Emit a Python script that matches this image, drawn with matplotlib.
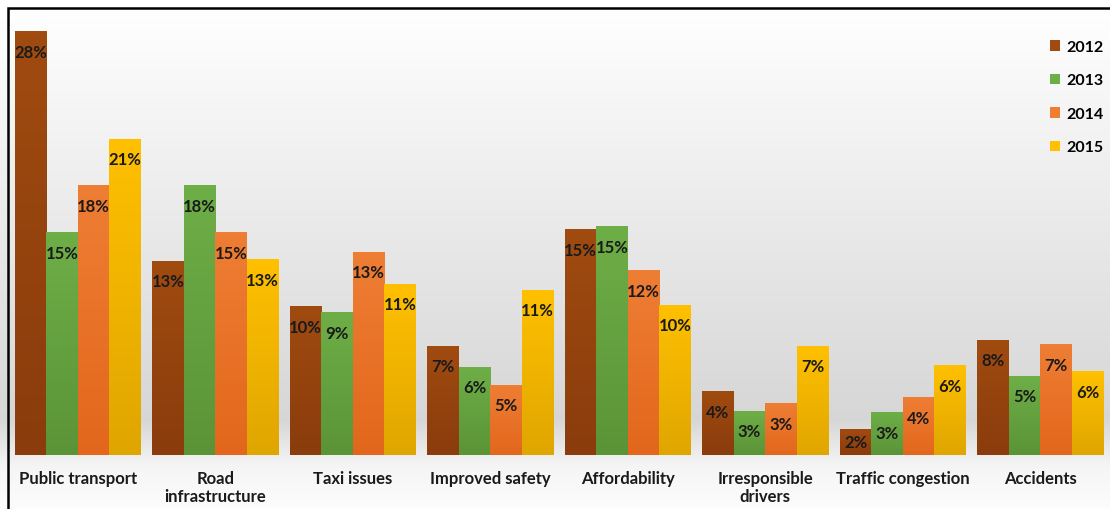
import numpy as np
import matplotlib
matplotlib.use('Agg')
import matplotlib.pyplot as plt
from matplotlib.patches import Patch, Rectangle
from matplotlib.colors import to_rgb

plt.rcParams['font.family'] = ['Lato', 'DejaVu Sans']
plt.rcParams['font.weight'] = 'bold'

categories = ['Public transport', 'Road\ninfrastructure', 'Taxi issues', 'Improved safety',
              'Affordability', 'Irresponsible\ndrivers', 'Traffic congestion', 'Accidents']
years = ['2012', '2013', '2014', '2015']
v2012 = [28.0, 12.8, 9.8, 7.2, 14.9, 4.2, 1.7, 7.6]
v2013 = [14.7, 17.8, 9.4, 5.8, 15.1, 2.9, 2.8, 5.2]
v2014 = [17.8, 14.7, 13.4, 4.6, 12.2, 3.4, 3.8, 7.3]
v2015 = [20.9, 12.9, 11.3, 10.9, 9.9, 7.2, 5.9, 5.5]
series = [v2012, v2013, v2014, v2015]

top_colors = ['#A04B10', '#6EAE47', '#EE7E34', '#FFC000']
bottom_colors = ['#8A3C0C', '#5B9437', '#E2671C', '#E0A600']

W, H = 1110, 510
fig = plt.figure(figsize=(W / 100, H / 100), dpi=100)

# background gradient (white at top, grey toward the baseline, light below)
bg = fig.add_axes([0, 0, 1, 1])
rows = np.arange(H)
shade = np.interp(rows, [0, 10, 420, 466, 510], [1.0, 1.0, 0.84, 0.96, 0.99])
bg.imshow(np.repeat(shade[:, None, None], 3, axis=2), extent=[0, 1, 0, 1],
          aspect='auto', origin='upper')
bg.axis('off')

ax = fig.add_axes([9 / W, 54 / H, 1100 / W, 446 / H])
ax.patch.set_alpha(0)

x = np.arange(len(categories))
width = 0.229
for i, vals in enumerate(series):
    offs = (i - 1.5) * width
    bars = ax.bar(x + offs, vals, width, color='none', edgecolor='none')
    c0 = np.array(to_rgb(top_colors[i]))
    c1 = np.array(to_rgb(bottom_colors[i]))
    t = np.linspace(0, 1, 64)[:, None]
    grad = (c0 * (1 - t) + c1 * t)[:, None, :]
    for rect, v in zip(bars, vals):
        x0 = rect.get_x()
        ax.imshow(grad, extent=[x0, x0 + rect.get_width(), 0, rect.get_height()],
                  aspect='auto', origin='upper', zorder=2)
        off = 9 if v < 2.5 else 14.4
        ax.annotate(f'{round(v)}%', xy=(x0 + rect.get_width() / 2, v),
                    xytext=(0, -off), textcoords='offset points',
                    ha='center', va='center', fontsize=12, color='#1a1a1a', zorder=3)

ax.set_xlim(-0.5, 7.5)
ax.set_ylim(0, 29.5)
ax.set_yticks([])
ax.set_xticks(x, categories, fontsize=12, color='#1a1a1a')
ax.tick_params(axis='x', length=0, pad=11)
for lbl in ax.get_xticklabels():
    lbl.set_linespacing(1.15)
for s in ax.spines.values():
    s.set_visible(False)

handles = [Patch(facecolor=c) for c in top_colors]
fig.legend(handles, years, loc='upper right', bbox_to_anchor=(1104 / W, 1 - 41 / H),
           borderaxespad=0, borderpad=0, frameon=False,
           handlelength=0.65, handleheight=0.65, handletextpad=0.4,
           labelspacing=1.22, fontsize=11.5)

# frame line (top and left edges visible)
fig.add_artist(Rectangle((8 / W, -0.1), 1.2, 1.1 - 9 / H, transform=fig.transFigure,
                         fill=False, lw=1.8, ec='black'))

fig.savefig('out.png', dpi=100)
